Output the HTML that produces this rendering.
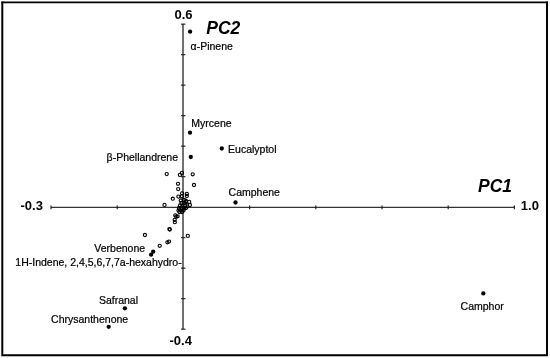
<!DOCTYPE html>
<html><head><meta charset="utf-8"><style>
html,body{margin:0;padding:0;background:#fff;}
svg{display:block;}
text{font-family:"Liberation Sans",sans-serif;}
svg{will-change:transform;}
.lb{font-size:10.5px;fill:#000;stroke:#000;stroke-width:0.22px;}
.tk{font-size:13px;font-weight:bold;fill:#000;}
.pc{font-size:17.5px;font-weight:bold;font-style:italic;fill:#000;}
</style></head><body>
<svg width="550" height="358" viewBox="0 0 550 358">
<path d="M1.3 2.45H548" fill="none" stroke="#000" stroke-width="1.7"/>
<path d="M2.3 1.6V356.3M547 1.6V356.3M1.3 355.3H548" fill="none" stroke="#000" stroke-width="2"/>
<line x1="51" y1="207.4" x2="514.5" y2="207.4" stroke="#333" stroke-width="1.4"/>
<line x1="183" y1="24" x2="183" y2="329" stroke="#707070" stroke-width="2"/>
<line x1="51.0" y1="205.6" x2="51.0" y2="209.2" stroke="#222" stroke-width="1.2"/>
<line x1="117.2" y1="205.6" x2="117.2" y2="209.2" stroke="#222" stroke-width="1.2"/>
<line x1="183.4" y1="205.6" x2="183.4" y2="209.2" stroke="#222" stroke-width="1.2"/>
<line x1="249.6" y1="205.6" x2="249.6" y2="209.2" stroke="#222" stroke-width="1.2"/>
<line x1="315.8" y1="205.6" x2="315.8" y2="209.2" stroke="#222" stroke-width="1.2"/>
<line x1="382.0" y1="205.6" x2="382.0" y2="209.2" stroke="#222" stroke-width="1.2"/>
<line x1="448.2" y1="205.6" x2="448.2" y2="209.2" stroke="#222" stroke-width="1.2"/>
<line x1="514.4" y1="205.6" x2="514.4" y2="209.2" stroke="#222" stroke-width="1.2"/>
<line x1="181.1" y1="24.15" x2="185.4" y2="24.15" stroke="#222" stroke-width="1.2"/>
<line x1="181.1" y1="54.65" x2="185.4" y2="54.65" stroke="#222" stroke-width="1.2"/>
<line x1="181.1" y1="85.15" x2="185.4" y2="85.15" stroke="#222" stroke-width="1.2"/>
<line x1="181.1" y1="115.65" x2="185.4" y2="115.65" stroke="#222" stroke-width="1.2"/>
<line x1="181.1" y1="146.15" x2="185.4" y2="146.15" stroke="#222" stroke-width="1.2"/>
<line x1="181.1" y1="176.65" x2="185.4" y2="176.65" stroke="#222" stroke-width="1.2"/>
<line x1="181.1" y1="207.15" x2="185.4" y2="207.15" stroke="#222" stroke-width="1.2"/>
<line x1="181.1" y1="237.65" x2="185.4" y2="237.65" stroke="#222" stroke-width="1.2"/>
<line x1="181.1" y1="268.15" x2="185.4" y2="268.15" stroke="#222" stroke-width="1.2"/>
<line x1="181.1" y1="298.65" x2="185.4" y2="298.65" stroke="#222" stroke-width="1.2"/>
<line x1="181.1" y1="329.15" x2="185.4" y2="329.15" stroke="#222" stroke-width="1.2"/>
<circle cx="166.7" cy="174.1" r="1.6" fill="none" stroke="#000" stroke-width="1.1"/>
<circle cx="179.9" cy="174.9" r="1.6" fill="none" stroke="#000" stroke-width="1.1"/>
<circle cx="182.0" cy="172.9" r="1.6" fill="none" stroke="#000" stroke-width="1.1"/>
<circle cx="192.7" cy="174.3" r="1.6" fill="none" stroke="#000" stroke-width="1.1"/>
<circle cx="178.0" cy="183.8" r="1.6" fill="none" stroke="#000" stroke-width="1.1"/>
<circle cx="194.0" cy="185.0" r="1.6" fill="none" stroke="#000" stroke-width="1.1"/>
<circle cx="178.2" cy="189.1" r="1.6" fill="none" stroke="#000" stroke-width="1.1"/>
<circle cx="182.1" cy="193.3" r="1.6" fill="none" stroke="#000" stroke-width="1.1"/>
<circle cx="186.8" cy="193.9" r="1.6" fill="none" stroke="#000" stroke-width="1.1"/>
<circle cx="181.9" cy="196.3" r="1.6" fill="none" stroke="#000" stroke-width="1.1"/>
<circle cx="178.4" cy="196.6" r="1.6" fill="none" stroke="#000" stroke-width="1.1"/>
<circle cx="186.8" cy="196.0" r="1.6" fill="none" stroke="#000" stroke-width="1.1"/>
<circle cx="172.8" cy="198.7" r="1.6" fill="none" stroke="#000" stroke-width="1.1"/>
<circle cx="180.8" cy="200.5" r="1.6" fill="none" stroke="#000" stroke-width="1.1"/>
<circle cx="186.1" cy="202.2" r="1.6" fill="none" stroke="#000" stroke-width="1.1"/>
<circle cx="189.2" cy="201.9" r="1.6" fill="none" stroke="#000" stroke-width="1.1"/>
<circle cx="189.9" cy="205.0" r="1.6" fill="none" stroke="#000" stroke-width="1.1"/>
<circle cx="164.5" cy="204.9" r="1.6" fill="none" stroke="#000" stroke-width="1.1"/>
<circle cx="184" cy="200" r="1.6" fill="none" stroke="#000" stroke-width="1.1"/>
<circle cx="186" cy="201" r="1.6" fill="none" stroke="#000" stroke-width="1.1"/>
<circle cx="181.5" cy="203" r="1.6" fill="none" stroke="#000" stroke-width="1.1"/>
<circle cx="184" cy="203" r="1.6" fill="none" stroke="#000" stroke-width="1.1"/>
<circle cx="180" cy="205.5" r="1.6" fill="none" stroke="#000" stroke-width="1.1"/>
<circle cx="182.5" cy="205.5" r="1.6" fill="none" stroke="#000" stroke-width="1.1"/>
<circle cx="185" cy="205.5" r="1.6" fill="none" stroke="#000" stroke-width="1.1"/>
<circle cx="187.3" cy="206.5" r="1.6" fill="none" stroke="#000" stroke-width="1.1"/>
<circle cx="179" cy="208" r="1.6" fill="none" stroke="#000" stroke-width="1.1"/>
<circle cx="181.5" cy="208" r="1.6" fill="none" stroke="#000" stroke-width="1.1"/>
<circle cx="184" cy="208.5" r="1.6" fill="none" stroke="#000" stroke-width="1.1"/>
<circle cx="186" cy="208" r="1.6" fill="none" stroke="#000" stroke-width="1.1"/>
<circle cx="178.5" cy="210.5" r="1.6" fill="none" stroke="#000" stroke-width="1.1"/>
<circle cx="181" cy="210.5" r="1.6" fill="none" stroke="#000" stroke-width="1.1"/>
<circle cx="183.5" cy="210.5" r="1.6" fill="none" stroke="#000" stroke-width="1.1"/>
<circle cx="179.5" cy="212" r="1.6" fill="none" stroke="#000" stroke-width="1.1"/>
<circle cx="182" cy="212" r="1.6" fill="none" stroke="#000" stroke-width="1.1"/>
<circle cx="175.3" cy="215.4" r="1.6" fill="none" stroke="#000" stroke-width="1.1"/>
<circle cx="177.6" cy="216.3" r="1.6" fill="none" stroke="#000" stroke-width="1.1"/>
<circle cx="176.3" cy="216.6" r="1.6" fill="none" stroke="#000" stroke-width="1.1"/>
<circle cx="174.7" cy="219.8" r="1.6" fill="none" stroke="#000" stroke-width="1.1"/>
<circle cx="174.8" cy="222.2" r="1.6" fill="none" stroke="#000" stroke-width="1.1"/>
<circle cx="169.4" cy="229.1" r="1.6" fill="none" stroke="#000" stroke-width="1.1"/>
<circle cx="169.8" cy="229.5" r="1.6" fill="none" stroke="#000" stroke-width="1.1"/>
<circle cx="144.9" cy="235.0" r="1.6" fill="none" stroke="#000" stroke-width="1.1"/>
<circle cx="187.8" cy="235.9" r="1.6" fill="none" stroke="#000" stroke-width="1.1"/>
<circle cx="167.4" cy="242.3" r="1.6" fill="none" stroke="#000" stroke-width="1.1"/>
<circle cx="169.0" cy="241.6" r="1.6" fill="none" stroke="#000" stroke-width="1.1"/>
<circle cx="159.7" cy="245.8" r="1.6" fill="none" stroke="#000" stroke-width="1.1"/>
<circle cx="190.1" cy="31.7" r="2.15" fill="#000"/>
<circle cx="190.0" cy="132.7" r="2.15" fill="#000"/>
<circle cx="221.8" cy="148.5" r="2.15" fill="#000"/>
<circle cx="190.8" cy="157.0" r="2.15" fill="#000"/>
<circle cx="235.5" cy="202.5" r="2.15" fill="#000"/>
<circle cx="151.1" cy="254.7" r="2.15" fill="#000"/>
<circle cx="153.2" cy="251.7" r="2.15" fill="#000"/>
<circle cx="124.9" cy="308.3" r="2.15" fill="#000"/>
<circle cx="108.7" cy="326.8" r="2.15" fill="#000"/>
<circle cx="483.3" cy="293.4" r="2.15" fill="#000"/>
<text x="190.6" y="50.0" class="lb">α-Pinene</text>
<text x="191.3" y="127.3" class="lb">Myrcene</text>
<text x="228.1" y="153.2" class="lb">Eucalyptol</text>
<text x="106.6" y="161.2" class="lb">β-Phellandrene</text>
<text x="228.6" y="196.1" class="lb">Camphene</text>
<text x="94.3" y="252.1" class="lb">Verbenone</text>
<text x="15.3" y="266.1" class="lb">1H-Indene, 2,4,5,6,7,7a-hexahydro-</text>
<text x="98.9" y="303.5" class="lb">Safranal</text>
<text x="51.1" y="323.1" class="lb">Chrysanthenone</text>
<text x="460.6" y="310.1" class="lb">Camphor</text>
<text x="174.5" y="18.9" class="tk">0.6</text>
<text x="20.5" y="210.3" class="tk">-0.3</text>
<text x="520.8" y="210.2" class="tk">1.0</text>
<text x="169.5" y="344.7" class="tk">-0.4</text>
<text x="206.3" y="34.4" class="pc">PC2</text>
<text x="478" y="192.1" class="pc">PC1</text>
</svg>
</body></html>
